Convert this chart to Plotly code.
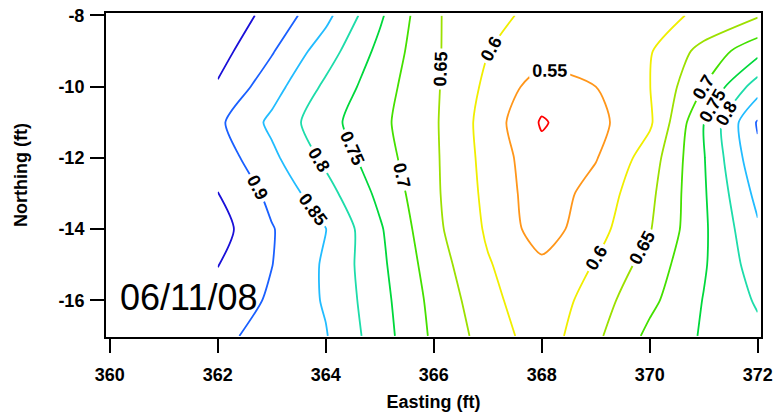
import plotly.graph_objects as go

easting = [362, 363, 364, 365, 366, 367, 368, 369, 370, 371, 372]
northing = [-17, -16, -15, -14, -13, -12, -11, -10, -9, -8]

row_m17 = [0.912, 0.882, 0.853, 0.773, 0.691, 0.629, 0.572, 0.640, 0.712, 0.755, 0.788]
row_m16 = [0.937, 0.892, 0.845, 0.768, 0.685, 0.617, 0.560, 0.627, 0.688, 0.752, 0.806]
row_m15 = [0.951, 0.901, 0.843, 0.762, 0.675, 0.604, 0.560, 0.603, 0.671, 0.745, 0.825]
row_m14 = [0.970, 0.903, 0.851, 0.756, 0.663, 0.593, 0.525, 0.582, 0.647, 0.742, 0.843]
row_m13 = [0.951, 0.887, 0.819, 0.738, 0.659, 0.5875, 0.520, 0.569, 0.638, 0.744, 0.865]
row_m12 = [0.928, 0.861, 0.789, 0.721, 0.658, 0.583, 0.515, 0.547, 0.624, 0.747, 0.890]
row_m11 = [0.910, 0.839, 0.767, 0.712, 0.657, 0.579, 0.495, 0.535, 0.592, 0.749, 0.905]
row_m10 = [0.945, 0.871, 0.790, 0.721, 0.658, 0.589, 0.525, 0.550, 0.599, 0.700, 0.826]
row_m9 = [0.969, 0.9045, 0.8235, 0.737, 0.658, 0.601, 0.575, 0.574, 0.596, 0.667, 0.733]
row_m8 = [0.985, 0.934, 0.864, 0.758, 0.656, 0.615, 0.585, 0.580, 0.587, 0.607, 0.645]

z = [row_m17, row_m16, row_m15, row_m14, row_m13, row_m12, row_m11, row_m10, row_m9, row_m8]

contour_levels = [0.50, 0.55, 0.60, 0.65, 0.70, 0.75, 0.80, 0.85, 0.90, 0.95]
level_colors = ["#ff0000", "#ff961a", "#f0ee00", "#9ce000", "#44e000",
                "#00d83c", "#1edcaa", "#22bcff", "#1a60ff", "#1a10d8"]

x_ticks = [360, 362, 364, 366, 368, 370, 372]
x_tick_labels = ["360", "362", "364", "366", "368", "370", "372"]
y_ticks = [-16, -14, -12, -10, -8]
y_tick_labels = ["-16", "-14", "-12", "-10", "-8"]
date_label = "06/11/08"

font_family = "Liberation Sans, Arial, sans-serif"

fig = go.Figure()
for lv, col in zip(contour_levels, level_colors):
    fig.add_trace(go.Contour(
        x=easting, y=northing, z=z,
        colorscale=[[0, col], [1, col]],
        showscale=False,
        contours=dict(start=lv, end=lv, size=0.05,
                      coloring="lines", showlabels=True,
                      labelfont=dict(family=font_family, size=18, color="black",
                                     weight="bold")),
        line=dict(width=1.8, smoothing=0.7),
        hoverinfo="skip",
    ))

fig.update_layout(
    width=779, height=417,
    margin=dict(l=106, r=18, t=13, b=80, autoexpand=False),
    plot_bgcolor="white", paper_bgcolor="white",
    showlegend=False, hovermode=False,
    xaxis=dict(range=[359.93, 372.06], tickvals=x_ticks, ticktext=x_tick_labels,
               ticks="outside", ticklen=14, tickwidth=2, tickcolor="black",
               ticklabelstandoff=6, ticklabeloverflow="allow",
               showline=True, linewidth=2, linecolor="black", mirror=True,
               showgrid=False, zeroline=False, automargin=False,
               tickfont=dict(family=font_family, size=18, color="black", weight="bold"),
               title=dict(text="Easting (ft)", standoff=12,
                          font=dict(family=font_family, size=18, color="black", weight="bold"))),
    yaxis=dict(range=[-17.03, -7.93], tickvals=y_ticks, ticktext=y_tick_labels,
               ticks="outside", ticklen=14, tickwidth=2, tickcolor="black",
               ticklabelstandoff=2, ticklabeloverflow="allow",
               showline=True, linewidth=2, linecolor="black", mirror=True,
               showgrid=False, zeroline=False, automargin=False,
               tickfont=dict(family=font_family, size=18, color="black", weight="bold"),
               title=dict(text="Northing (ft)", standoff=26,
                          font=dict(family=font_family, size=18, color="black", weight="bold"))),
    annotations=[dict(text=date_label, x=360.16, y=-15.92, xref="x", yref="y",
                      xanchor="left", yanchor="middle", showarrow=False,
                      font=dict(family=font_family, size=36, color="black"))],
)

# remove the default 8px page margin so the figure fills the window exactly
fig.write_html("out.html",
               config={"displayModeBar": False, "staticPlot": True},
               post_script="document.body.style.margin='0';document.body.style.overflow='hidden';")
